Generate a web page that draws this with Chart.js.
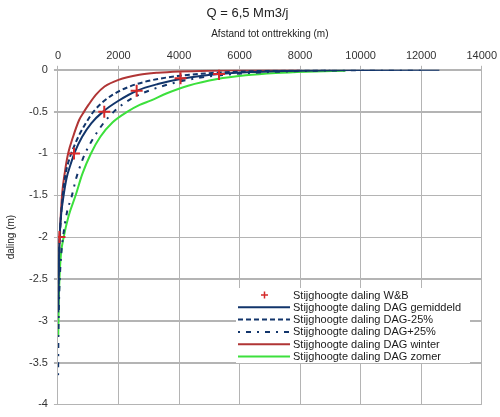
<!DOCTYPE html>
<html>
<head>
<meta charset="utf-8">
<script src="https://cdn.jsdelivr.net/npm/chart.js@4.4.1/dist/chart.umd.min.js"></script>
<style>
  html, body { margin: 0; padding: 0; background: #fff; }
  #wrap { width: 500px; height: 417px; }
</style>
</head>
<body>
<div id="wrap"><canvas id="dalingChart" width="500" height="417"></canvas></div>
<script>
// meetpunten W&B
const wbX = [50, 530, 1530, 2600, 4050, 5320];
const wbY = [-2.0, -1.0, -0.5, -0.25, -0.1, -0.05];

// DAG gemiddeld
const gemX = [10, 25, 50, 100, 180, 282, 400, 561, 800, 1100, 1490, 2000, 2611, 3300, 4050, 5320, 6500, 8000, 10000, 12600];
const gemY = [-2.9, -2.45, -2.05, -1.75, -1.52, -1.3, -1.15, -0.98, -0.8, -0.64, -0.5, -0.37, -0.25, -0.17, -0.11, -0.05, -0.025, -0.01, -0.003, 0];

// DAG -25%
const minX = [10, 30, 60, 160, 250, 400, 482, 700, 900, 1176, 1500, 1800, 2298, 2800, 3300, 4050, 5000, 6000, 7500, 9000];
const minY = [-2.75, -2.3, -2.0, -1.5, -1.25, -1.04, -0.96, -0.78, -0.65, -0.5, -0.38, -0.3, -0.21, -0.15, -0.11, -0.07, -0.04, -0.022, -0.009, -0.002];

// DAG +25%
const plusX = [5, 15, 30, 60, 110, 168, 300, 450, 600, 785, 897, 1200, 1500, 1848, 2400, 3000, 3800, 4600, 5500, 6500, 8000, 10000, 12000];
const plusY = [-3.65, -3.2, -2.85, -2.5, -2.2, -2.0, -1.7, -1.52, -1.3, -1.1, -1.0, -0.8, -0.64, -0.5, -0.35, -0.25, -0.16, -0.1, -0.06, -0.035, -0.015, -0.004, 0];

// DAG winter
const winX = [15, 30, 57, 134, 230, 336, 500, 700, 863, 1008, 1250, 1540, 2000, 2688, 3300, 4032, 5000, 6000, 7000, 8000];
const winY = [-2.5, -2.25, -2.0, -1.5, -1.22, -1.0, -0.8, -0.6, -0.5, -0.42, -0.3, -0.2, -0.12, -0.06, -0.035, -0.02, -0.01, -0.005, -0.002, 0];

// DAG zomer
const zomX = [10, 25, 50, 100, 190, 350, 585, 800, 1090, 1400, 1800, 2298, 2700, 3081, 3600, 4300, 5265, 6200, 7200, 8200, 9500];
const zomY = [-3.18, -2.8, -2.5, -2.2, -2.0, -1.75, -1.5, -1.25, -1.0, -0.8, -0.63, -0.5, -0.42, -0.365, -0.28, -0.19, -0.11, -0.066, -0.038, -0.022, -0.01];

const xTicks = [0, 2000, 4000, 6000, 8000, 10000, 12000, 14000];
const yTicks = [0, -0.5, -1, -1.5, -2, -2.5, -3, -3.5, -4];

const pts = (xs, ys) => xs.map((x, i) => ({ x: x, y: ys[i] }));

const navy = "#12356b";
const gridGrey = "#b4b4b4";
const font = "'Liberation Sans', Arial, sans-serif";

// horizontale rasterlijnen op de y-ticks
const hGrid = {
    id: "hGrid",
    beforeDatasetsDraw(chart) {
        const ctx = chart.ctx;
        const area = chart.chartArea;
        const ys = chart.scales.y;
        ctx.save();
        ctx.strokeStyle = gridGrey;
        ctx.lineWidth = 1;
        ys.ticks.forEach((t) => {
            const p = Math.round(ys.getPixelForValue(t.value)) + 0.5;
            ctx.beginPath();
            ctx.moveTo(area.left - 4, p);
            ctx.lineTo(area.right, p);
            ctx.stroke();
        });
        ctx.restore();
    }
};

const legendBox = {
    id: "legendBox",
    afterDatasetsDraw(chart) {
        const ctx = chart.ctx;
        const x0 = 236, y0 = 288, w = 234, h = 75;
        ctx.save();
        ctx.fillStyle = "#ffffff";
        ctx.fillRect(x0, y0, w, h);
        ctx.font = "11px " + font;
        ctx.textBaseline = "middle";
        chart.data.datasets.forEach((ds, i) => {
            const y = y0 + 7 + i * 12.3;
            if (ds.showLine === false) {
                ctx.strokeStyle = ds.borderColor;
                ctx.lineWidth = 1.5;
                ctx.beginPath();
                ctx.moveTo(261, y); ctx.lineTo(268, y);
                ctx.moveTo(264.5, y - 3.5); ctx.lineTo(264.5, y + 3.5);
                ctx.stroke();
            } else {
                ctx.strokeStyle = ds.borderColor;
                ctx.lineWidth = ds.borderWidth;
                ctx.setLineDash(ds.borderDash || []);
                ctx.beginPath();
                ctx.moveTo(238, y); ctx.lineTo(290, y);
                ctx.stroke();
                ctx.setLineDash([]);
            }
            ctx.fillStyle = "#1a1a1a";
            ctx.fillText(ds.label, 293, y + 0.5);
        });
        ctx.restore();
    }
};

new Chart(document.getElementById("dalingChart").getContext("2d"), {
    type: "scatter",
    data: {
        datasets: [
            {
                label: "Stijghoogte daling W&B",
                data: pts(wbX, wbY),
                showLine: false,
                pointStyle: "cross",
                pointRadius: 6,
                pointBorderWidth: 2,
                borderColor: "#d42a2a",
                backgroundColor: "#d42a2a",
                order: 0
            },
            {
                label: "Stijghoogte daling DAG gemiddeld",
                data: pts(gemX, gemY),
                showLine: true,
                borderColor: navy,
                borderWidth: 2,
                pointRadius: 0,
                order: 1
            },
            {
                label: "Stijghoogte daling DAG-25%",
                data: pts(minX, minY),
                showLine: true,
                borderColor: navy,
                borderWidth: 2,
                borderDash: [5, 3],
                pointRadius: 0,
                order: 2
            },
            {
                label: "Stijghoogte daling DAG+25%",
                data: pts(plusX, plusY),
                showLine: true,
                borderColor: navy,
                borderWidth: 2,
                borderDash: [2, 6, 5, 6],
                pointRadius: 0,
                order: 3
            },
            {
                label: "Stijghoogte daling DAG winter",
                data: pts(winX, winY),
                showLine: true,
                borderColor: "#b03535",
                borderWidth: 2,
                pointRadius: 0,
                order: 4
            },
            {
                label: "Stijghoogte daling DAG zomer",
                data: pts(zomX, zomY),
                showLine: true,
                borderColor: "#3ce03c",
                borderWidth: 2,
                pointRadius: 0,
                order: 5
            }
        ]
    },
    options: {
        responsive: false,
        animation: false,
        elements: { line: { cubicInterpolationMode: "monotone" } },
        layout: { padding: { left: 5, right: 10, top: 2, bottom: 5 } },
        plugins: {
            legend: { display: false },
            tooltip: { enabled: false },
            title: {
                display: true,
                text: "Q = 6,5 Mm3/j",
                color: "#222",
                font: { family: font, size: 13, weight: "normal" },
                padding: { top: 4, bottom: 7 }
            }
        },
        scales: {
            x: {
                type: "linear",
                position: "top",
                min: xTicks[0],
                max: xTicks[xTicks.length - 1],
                ticks: {
                    stepSize: xTicks[1] - xTicks[0],
                    color: "#333",
                    font: { family: font, size: 11 },
                    padding: 3,
                    maxRotation: 0,
                    callback: (v) => String(v)
                },
                grid: { display: true, color: gridGrey, lineWidth: 1, drawTicks: true, tickLength: 4 },
                border: { display: true, color: gridGrey },
                title: {
                    display: true,
                    text: "Afstand tot onttrekking (m)",
                    color: "#222",
                    font: { family: font, size: 10 },
                    padding: { top: 0, bottom: 6 }
                }
            },
            y: {
                type: "linear",
                position: "left",
                min: yTicks[yTicks.length - 1],
                max: yTicks[0],
                ticks: {
                    stepSize: yTicks[0] - yTicks[1],
                    color: "#333",
                    font: { family: font, size: 11 },
                    padding: 6,
                    callback: (v) => String(Number(v.toFixed(1)))
                },
                grid: { display: true, color: gridGrey, lineWidth: 1, drawTicks: true, tickLength: 4 },
                border: { display: true, color: gridGrey },
                title: {
                    display: true,
                    text: "daling (m)",
                    color: "#222",
                    font: { family: font, size: 10 },
                    padding: { top: 0, bottom: 6 }
                }
            }
        }
    },
    plugins: [hGrid, legendBox]
});
</script>
</body>
</html>
